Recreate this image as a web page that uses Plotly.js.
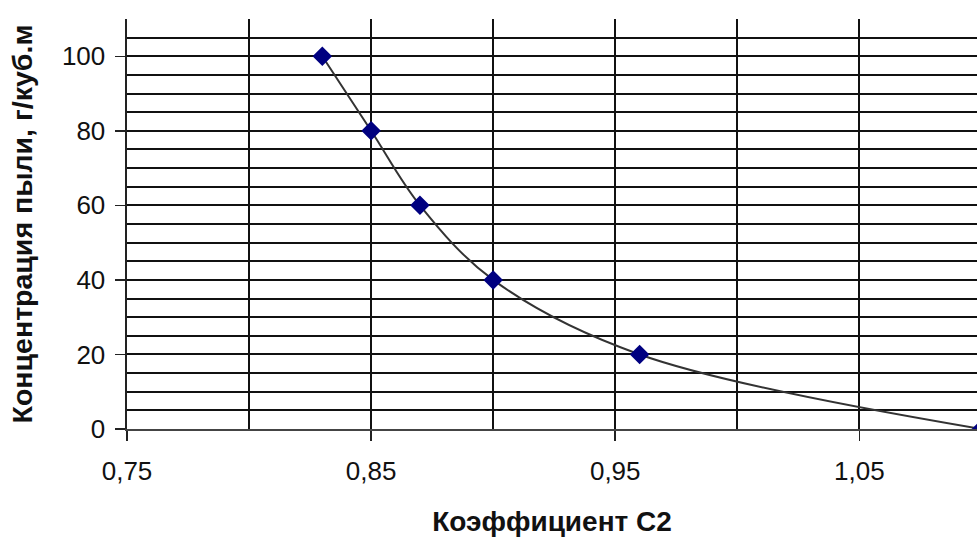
<!DOCTYPE html>
<html>
<head>
<meta charset="utf-8">
<script src="https://cdn.plot.ly/plotly-3.0.1.min.js"></script>
<style>html,body{margin:0;padding:0;background:#fff;}#chart{width:977px;height:537px;}</style>
</head>
<body>
<div id="chart"></div>
<script>
const coefC2 = [0.83, 0.85, 0.87, 0.90, 0.96, 1.10];
const dustConc = [100, 80, 60, 40, 20, 0];
const xTickVals = [0.75, 0.85, 0.95, 1.05];
const xTickText = ['0,75', '0,85', '0,95', '1,05'];
const yTickVals = [0, 20, 40, 60, 80, 100];

const trace = {
  x: coefC2,
  y: dustConc,
  type: 'scatter',
  mode: 'lines+markers',
  line: {shape: 'spline', smoothing: 1, color: '#333333', width: 2},
  marker: {symbol: 'diamond', size: 15, color: '#000080'}
};

const FONT = 'Liberation Sans, Arial, sans-serif';
const layout = {
  width: 977, height: 537,
  margin: {l: 127, r: 0, t: 19, b: 108},
  paper_bgcolor: '#ffffff', plot_bgcolor: '#ffffff',
  showlegend: false,
  font: {family: FONT, color: '#111111', size: 26},
  xaxis: {
    range: [0.75, 1.0982],
    tickvals: xTickVals, ticktext: xTickText,
    ticks: 'outside', ticklen: 10, tickwidth: 1.5, tickcolor: '#222',
    showgrid: true, gridcolor: '#111111', gridwidth: 2,
    minor: {dtick: 0.05, tick0: 0.75, showgrid: true, gridcolor: '#111111', gridwidth: 2, ticks: ''},
    showline: true, linecolor: '#444444', linewidth: 2,
    zeroline: false,
    tickfont: {size: 26},
    ticklabelstandoff: 8,
    title: {text: 'Коэффициент С2', font: {size: 28, weight: 'bold', color: '#111'}, standoff: 26}
  },
  yaxis: {
    range: [0, 110],
    tickvals: yTickVals,
    ticks: 'outside', ticklen: 10, tickwidth: 1.5, tickcolor: '#222',
    showgrid: true, gridcolor: '#111111', gridwidth: 2,
    minor: {dtick: 5, tick0: 0, showgrid: true, gridcolor: '#111111', gridwidth: 2, ticks: ''},
    showline: true, linecolor: '#222222', linewidth: 2.5,
    zeroline: false,
    tickfont: {size: 26},
    ticklabelstandoff: 4,
    title: {text: 'Концентрация пыли, г/куб.м', font: {size: 28.5, weight: 'bold', color: '#111'}, standoff: 21}
  }
};

Plotly.newPlot('chart', [trace], layout, {displayModeBar: false, staticPlot: true});
</script>
</body>
</html>
